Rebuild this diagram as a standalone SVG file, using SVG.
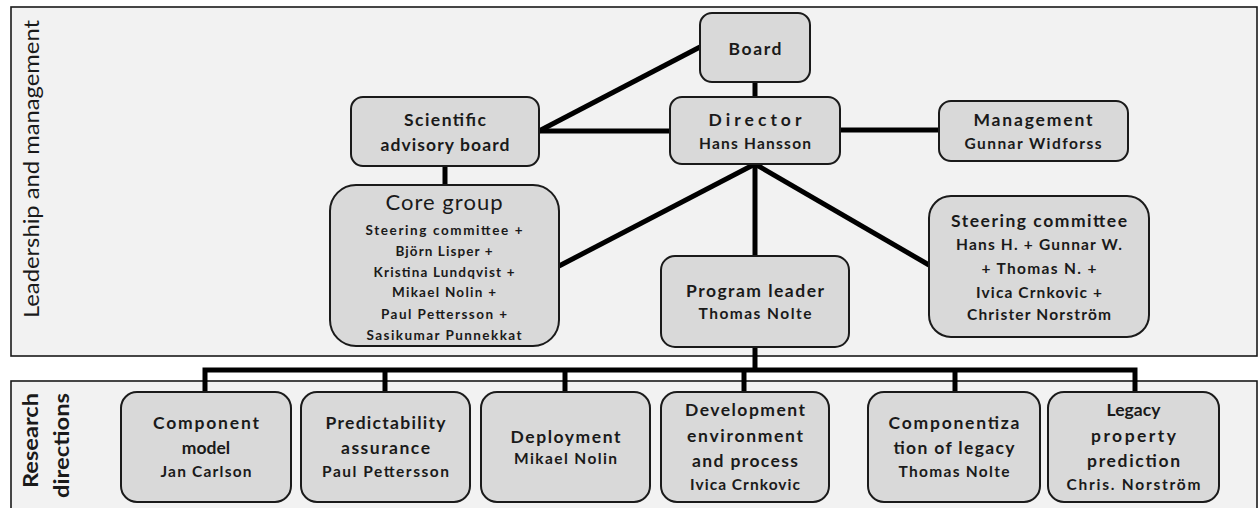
<svg xmlns="http://www.w3.org/2000/svg" width="1259" height="508" viewBox="0 0 1259 508">
<style>
.frame{fill:#f2f2f2;stroke:#1a1a1a;stroke-width:1.6}
.node{fill:#d9d9d9;stroke:#1a1a1a;stroke-width:2}
.conn{stroke:#000;stroke-width:5;fill:none;stroke-linecap:butt}
text{font-family:Lato,"Open Sans","Liberation Sans",sans-serif;fill:#1a1a1a;text-anchor:middle}
.t{font-weight:bold;font-size:17.5px}
.n{font-weight:bold;font-size:15.5px}
.m{font-weight:bold;font-size:13.5px}
.lab{font-size:21px}
.lab2{font-size:21px;font-weight:bold}
</style>
<rect width="1259" height="508" fill="#ffffff"/>
<g id="frame-leadership">
<rect class="frame" x="11" y="7" width="1246" height="349"/>
<text class="lab" transform="translate(39,169) rotate(-90)" textLength="298" lengthAdjust="spacingAndGlyphs">Leadership and management</text>
</g>
<g id="frame-research">
<rect class="frame" x="11" y="381" width="1246" height="140"/>
<text class="lab2" transform="translate(38,440.5) rotate(-90)" textLength="95" lengthAdjust="spacingAndGlyphs">Research</text>
<text class="lab2" transform="translate(69,445.5) rotate(-90)" textLength="105" lengthAdjust="spacingAndGlyphs">directions</text>
</g>
<g id="connectors">
<line class="conn" x1="755" y1="82" x2="755" y2="97"/>
<line class="conn" x1="700" y1="47" x2="539" y2="131"/>
<line class="conn" x1="539" y1="131" x2="670" y2="131"/>
<line class="conn" x1="840" y1="130" x2="939" y2="130"/>
<line class="conn" x1="445" y1="166" x2="445" y2="185"/>
<line class="conn" x1="755" y1="164" x2="559" y2="266"/>
<line class="conn" x1="755" y1="164" x2="755" y2="256"/>
<line class="conn" x1="755" y1="164" x2="929" y2="265"/>
<line class="conn" x1="755" y1="347" x2="755" y2="370"/>
<polyline class="conn" points="205,392 205,370 1135,370 1135,392"/>
<line class="conn" x1="385" y1="370" x2="385" y2="392"/>
<line class="conn" x1="565" y1="370" x2="565" y2="392"/>
<line class="conn" x1="744" y1="370" x2="744" y2="392"/>
<line class="conn" x1="955" y1="370" x2="955" y2="392"/>
</g>
<g id="board">
<rect class="node" x="700" y="13" width="110" height="69" rx="12"/>
<text class="t" x="755" y="55" textLength="53" lengthAdjust="spacing">Board</text>
</g>
<g id="scientific-advisory-board">
<rect class="node" x="351" y="97" width="188" height="69" rx="12"/>
<text class="t" x="445" y="126" textLength="82" lengthAdjust="spacing">Scientific</text>
<text class="t" x="445" y="151" textLength="129" lengthAdjust="spacing">advisory board</text>
</g>
<g id="director">
<rect class="node" x="670" y="97" width="170" height="67" rx="12"/>
<text class="t" x="755" y="126" textLength="93" lengthAdjust="spacing">Director</text>
<text class="n" x="755" y="149" textLength="112" lengthAdjust="spacing">Hans Hansson</text>
</g>
<g id="management">
<rect class="node" x="939" y="101" width="189" height="60" rx="12"/>
<text class="t" x="1033" y="126" textLength="119" lengthAdjust="spacing">Management</text>
<text class="n" x="1033" y="149" textLength="137" lengthAdjust="spacing">Gunnar Widforss</text>
</g>
<g id="steering-committee">
<rect class="node" x="929" y="196" width="220" height="141" rx="22"/>
<text class="t" x="1039" y="227" textLength="176" lengthAdjust="spacing">Steering committee</text>
<text class="n" x="1039" y="250" textLength="166" lengthAdjust="spacing">Hans H. + Gunnar W.</text>
<text class="n" x="1039" y="274" textLength="115" lengthAdjust="spacing">+ Thomas N. +</text>
<text class="n" x="1039" y="298" textLength="126" lengthAdjust="spacing">Ivica Crnkovic +</text>
<text class="n" x="1039" y="320" textLength="144" lengthAdjust="spacing">Christer Norström</text>
</g>
<g id="core-group">
<rect class="node" x="330" y="185" width="229" height="161" rx="26"/>
<text x="444" y="210" font-size="22" textLength="117" lengthAdjust="spacing">Core group</text>
<text class="m" x="444" y="235" textLength="157" lengthAdjust="spacing">Steering committee +</text>
<text class="m" x="444" y="256" textLength="97" lengthAdjust="spacing">Björn Lisper +</text>
<text class="m" x="444" y="277" textLength="141" lengthAdjust="spacing">Kristina Lundqvist +</text>
<text class="m" x="444" y="297" textLength="104" lengthAdjust="spacing">Mikael Nolin +</text>
<text class="m" x="444" y="319" textLength="126" lengthAdjust="spacing">Paul Pettersson +</text>
<text class="m" x="444" y="340" textLength="155" lengthAdjust="spacing">Sasikumar Punnekkat</text>
</g>
<g id="program-leader">
<rect class="node" x="661" y="256" width="188" height="91" rx="14"/>
<text class="t" x="755" y="297" textLength="138" lengthAdjust="spacing">Program leader</text>
<text class="n" x="755" y="319" textLength="113" lengthAdjust="spacing">Thomas Nolte</text>
</g>
<g id="component-model">
<rect class="node" x="121" y="392" width="170" height="110" rx="16"/>
<text class="t" x="206" y="429" textLength="106" lengthAdjust="spacing">Component</text>
<text class="t" x="206" y="454">model</text>
<text class="n" x="206" y="477" textLength="91" lengthAdjust="spacing">Jan Carlson</text>
</g>
<g id="predictability-assurance">
<rect class="node" x="301" y="392" width="169" height="110" rx="16"/>
<text class="t" x="385.5" y="429" textLength="120" lengthAdjust="spacing">Predictability</text>
<text class="t" x="385.5" y="454" textLength="89" lengthAdjust="spacing">assurance</text>
<text class="n" x="385.5" y="477" textLength="127" lengthAdjust="spacing">Paul Pettersson</text>
</g>
<g id="deployment">
<rect class="node" x="481" y="392" width="169" height="110" rx="16"/>
<text class="t" x="565.5" y="443" textLength="110" lengthAdjust="spacing">Deployment</text>
<text class="n" x="565.5" y="464" textLength="103" lengthAdjust="spacing">Mikael Nolin</text>
</g>
<g id="development-environment">
<rect class="node" x="661" y="392" width="168" height="110" rx="16"/>
<text class="t" x="745" y="416" textLength="120" lengthAdjust="spacing">Development</text>
<text class="t" x="745" y="442" textLength="116" lengthAdjust="spacing">environment</text>
<text class="t" x="745" y="467" textLength="106" lengthAdjust="spacing">and process</text>
<text class="n" x="745" y="490" textLength="110" lengthAdjust="spacing">Ivica Crnkovic</text>
</g>
<g id="componentization-of-legacy">
<rect class="node" x="868" y="392" width="172" height="110" rx="16"/>
<text class="t" x="954" y="429" textLength="131" lengthAdjust="spacing">Componentiza</text>
<text class="t" x="954" y="454" textLength="121" lengthAdjust="spacing">tion of legacy</text>
<text class="n" x="954" y="477" textLength="111" lengthAdjust="spacing">Thomas Nolte</text>
</g>
<g id="legacy-property-prediction">
<rect class="node" x="1048" y="392" width="171" height="110" rx="16"/>
<text class="t" x="1133.5" y="416">Legacy</text>
<text class="t" x="1133.5" y="442" textLength="85" lengthAdjust="spacing">property</text>
<text class="t" x="1133.5" y="467" textLength="93" lengthAdjust="spacing">prediction</text>
<text class="n" x="1133.5" y="490" textLength="134" lengthAdjust="spacing">Chris. Norström</text>
</g>
</svg>
